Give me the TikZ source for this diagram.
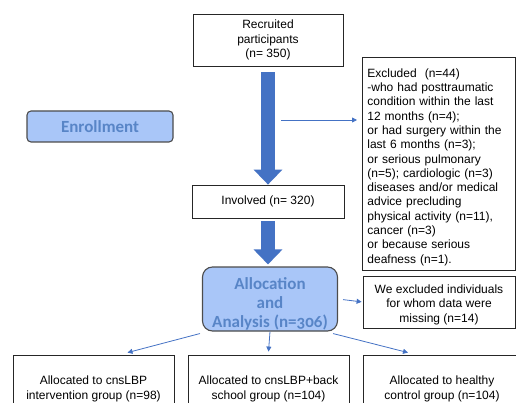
\documentclass[tikz,border=0pt]{standalone}
\usepackage{fontspec}
\setmainfont{Liberation Sans}
\newfontfamily\phasefont[Numbers=OldStyle]{Carlito}
\usepackage{tikz}
\usetikzlibrary{arrows.meta}
\definecolor{flowblue}{HTML}{4472C4}
\definecolor{phasefill}{HTML}{A9C6F8}
\definecolor{phasetext}{HTML}{5885C7}
\tikzstyle{Box}=[rectangle, draw=black!85, line width=0.8pt, inner sep=0pt, align=center, font=\fontsize{12}{14.3}\selectfont]
\tikzstyle{Phase}=[rectangle, rounded corners=10pt, draw=black!70, fill=phasefill, text=phasetext, line width=1.1pt, inner sep=0pt, align=center, font=\phasefont\bfseries\fontsize{17}{19}\selectfont]
\tikzstyle{Flow}=[line width=14pt, draw=flowblue, -{Triangle[width=28pt,length=15pt]}]
\tikzstyle{Link}=[line width=0.8pt, draw=flowblue, -{Triangle[width=5pt,length=5pt]}]

\begin{document}
\begin{tikzpicture}[x=1pt, y=-1pt]
    \clip (0,0) rectangle (516,403);
    \path
    (268,40) node[Box, minimum width=150, minimum height=52] (recruited) {Recruited\\participants\\(n= 350)}
    (268,201.5) node[Box, minimum width=152, minimum height=33] (involved) {Involved (n= 320)}
    (270,299) node[Phase, minimum width=135, minimum height=64] (allocation) {\rule{0pt}{22pt}Allocation\\and\\Analysis (n=306)}
    (100,126.5) node[Phase, rounded corners=4pt, minimum width=146, minimum height=31] (enrollment) {Enrollment};
    \path (362,57) node[Box, anchor=north west, minimum width=153, minimum height=213, text width=143, align=left, inner xsep=5] (excluded) {\rule{0pt}{15pt}Excluded\ \ (n=44)\\-who had posttraumatic\\condition within the last\\12 months (n=4);\\or had surgery within the\\last 6 months (n=3);\\or serious pulmonary\\(n=5); cardiologic (n=3)\\diseases and/or medical\\advice precluding\\physical activity (n=11),\\cancer (n=3)\\or because serious\\deafness (n=1).}
    (439,302) node[Box, minimum width=152, minimum height=52] (missing) {\rule{0pt}{14pt}We excluded individuals\\for whom data were\\missing (n=14)};
    \path (93.5,389) node[Box, minimum width=161, minimum height=68] (group1) {Allocated to cnsLBP\\intervention group (n=98)}
    (268.5,389) node[Box, minimum width=161, minimum height=68] (group2) {Allocated to cnsLBP+back\\school group (n=104)}
    (442,389) node[Box, minimum width=158, minimum height=68] (group3) {Allocated to healthy\\control group (n=104)};

    \coordinate (split) at (281,120);
    \draw[Flow, shorten <=6pt] (recruited.south) -- (involved.north);
    \draw[Flow, shorten <=3pt, shorten >=2pt] (involved.south) -- (involved.south |- allocation.north);
    \draw[Link, shorten >=5pt] (split) -- (split -| excluded.west);
    \draw[Link, shorten <=5pt, shorten >=1pt] (allocation.east) -- (missing.west);
    \draw[Link] ([xshift=-2pt,yshift=-2pt]allocation.south west) -- ([xshift=34pt,yshift=2pt]group1.north);
    \draw[Link] (allocation.south) -- ([yshift=3pt]group2.north);
    \draw[Link] ([xshift=-5pt,yshift=-2pt]allocation.south east) -- ([xshift=-34pt,yshift=2pt]group3.north);
\end{tikzpicture}
\end{document}
